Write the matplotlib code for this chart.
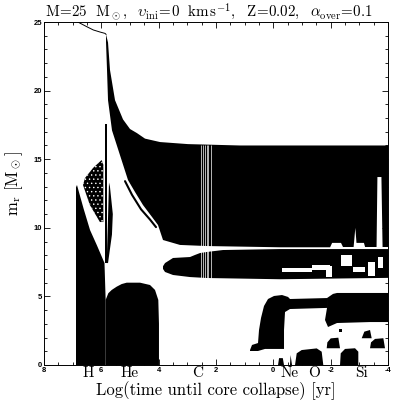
import numpy as np
import matplotlib
matplotlib.use('Agg')
import matplotlib.pyplot as plt
from matplotlib.ticker import MultipleLocator

plt.rcParams['mathtext.fontset'] = 'cm'
plt.rcParams['axes.unicode_minus'] = False
plt.rcParams['hatch.linewidth'] = 0.5

# surface mass line before the red supergiant phase
surf_x = [6.82, 6.51, 6.28, 6.047, 5.872, 5.837]
surf_y = [25.0, 24.66, 24.42, 24.27, 24.17, 24.1]

# convective envelope (top edge left->right, bottom edge right->left)
env_top_x = [5.837, 5.767, 5.698, 5.523, 5.244, 5.000, 4.756, 4.477, 3.953, 2.977, 1.163, -4.0]
env_top_y = [24.1, 23.5, 21.5, 19.3, 17.9, 17.2, 16.9, 16.5, 16.25, 16.1, 16.0, 16.0]
env_bot_x = [-4.0, -3.81, -3.77, -3.63, -3.60, -3.20, -3.16, -2.90, -2.86, -2.80, -2.43,
             -2.36, -2.05, -1.98, -0.233, 2.314, 3.256, 3.849, 4.023, 4.233, 4.547,
             4.826, 5.07, 5.628, 5.767, 5.802, 5.837]
env_bot_y = [8.6, 8.6, 13.7, 13.7, 8.6, 8.6, 8.9, 8.9, 10.0, 8.6, 8.6, 8.9, 8.9, 8.58,
             8.58, 8.67, 8.75, 9.11, 10.2, 10.79, 11.66, 12.61, 13.48, 17.1, 19.3, 21.5, 23.54]

# thin convective streak below the envelope base
streak_x = [5.174, 4.93, 4.616, 4.302, 4.093]
streak_y = [13.4, 12.4, 11.35, 10.6, 10.05]

# gaps in the output (white vertical lines)
gap_x = [2.523, 2.443, 2.384, 2.325, 2.269, 2.186]

# H burning core
hcore_x = [6.884, 6.884, 6.85, 6.62, 6.395, 6.15, 5.89, 5.85, 5.85]
hcore_y = [0, 12.95, 13.12, 11.4, 9.84, 8.7, 7.43, 4.74, 0]

# H shell zones at end of MS
bar_x = [5.875, 5.875, 5.82, 5.82]
bar_y = [7.43, 17.6, 17.6, 7.43]
lens_x = [5.813, 5.77, 5.733, 5.70, 5.60, 5.63, 5.767]
lens_y = [7.43, 10.5, 13.3, 13.0, 11.0, 9.5, 7.43]

# semiconvective region
semi_x = [5.99, 5.93, 5.93, 6.05, 6.40, 6.64, 6.57, 6.29]
semi_y = [14.94, 14.6, 10.42, 10.42, 11.66, 13.12, 13.63, 14.36]

# He burning core
he_x = [5.85, 5.85, 5.757, 5.638, 5.464, 5.29, 5.115, 4.651, 4.302, 4.128, 4.013, 3.99, 3.99]
he_y = [0, 4.74, 5.23, 5.47, 5.71, 5.90, 6.0, 6.0, 5.83, 5.47, 4.74, 3.0, 0]

# shell band
band_top_x = [3.849, 3.779, 3.50, 2.907, 2.733, 2.558, 2.314, 1.756, -0.233, -4.0]
band_top_y = [7.2, 7.43, 7.8, 7.87, 8.02, 8.16, 8.24, 8.38, 8.45, 8.45]
band_bot_x = [-4.0, -0.233, 2.314, 2.907, 3.50, 3.779, 3.849]
band_bot_y = [6.35, 6.25, 6.34, 6.41, 6.56, 6.78, 7.0]
hole_x0 = [-0.30, -1.35, -1.84, -2.36, -2.78, -3.30, -3.65]
hole_x1 = [-1.35, -1.98, -2.05, -2.74, -3.20, -3.55, -3.83]
hole_y0 = [6.78, 6.92, 6.45, 7.22, 6.78, 6.52, 7.07]
hole_y1 = [7.05, 7.29, 7.22, 8.02, 7.14, 7.50, 7.87]

# Ne / O / Si zones
ne_x = [0.814, 0.744, 0.535, 0.500, 0.430, 0.326, 0.186, -0.023, -0.302, -0.512, -0.581,
        -1.872, -1.872, -0.581, -0.407, -0.372, -0.372, 0.291, 0.535, 0.814]
ne_y = [1.09, 1.46, 1.60, 2.55, 3.43, 4.30, 4.81, 5.03, 5.10, 4.96, 4.81,
        4.88, 4.16, 4.08, 3.86, 2.55, 1.17, 1.17, 1.02, 1.02]
blk_x = [-1.872, -2.081, -2.221, -4.0, -4.0, -3.372, -2.221, -1.907, -1.802, -1.872]
blk_y = [4.88, 5.18, 5.25, 5.25, 3.13, 3.13, 3.06, 2.77, 3.28, 4.16]
hump1_x = [-0.756, -0.815, -0.989, -1.512, -1.686, -1.742]
hump1_y = [0, 0.85, 1.09, 1.21, 0.97, 0]
hump2_x = [-2.326, -2.35, -2.5, -2.849, -2.964, -2.964]
hump2_y = [0, 0.85, 1.17, 1.22, 0.97, 0]
blobA_x = [-1.861, -1.884, -2.002, -2.267, -2.326]
blobA_y = [1.22, 1.65, 1.94, 1.99, 1.22]
blobB_x = [-3.082, -3.174, -3.372, -3.43]
blobB_y = [1.95, 2.43, 2.55, 1.95]
blobC_x = [-3.372, -3.407, -3.547, -3.837, -3.895]
blobC_y = [1.22, 1.65, 1.9, 1.95, 1.22]
bump_x = [-0.163, -0.20, -0.33, -0.372]
bump_y = [0, 0.5, 0.5, 0]
sliver_x = [-0.581, -0.60, -0.651]
sliver_y = [0, 0.73, 0]
dot_x = [-2.29, -2.29, -2.39, -2.39]
dot_y = [2.4, 2.6, 2.6, 2.4]

elem_names = ['H', 'He', 'C', 'Ne', 'O', 'Si']
elem_x = [6.47, 5.0, 2.63, -0.58, -1.42, -3.09]

fig = plt.figure(figsize=(4.09, 4.09), dpi=100)
ax = fig.add_axes([0.1076, 0.1076, 0.8411, 0.8386])

ax.plot(surf_x, surf_y, color='black', lw=0.7)
ax.fill(env_top_x + env_bot_x, env_top_y + env_bot_y, color='black', lw=0)
ax.plot(streak_x, streak_y, color='black', lw=1.5, solid_capstyle='round')
ax.fill(hcore_x, hcore_y, color='black', lw=0)
ax.fill(bar_x, bar_y, color='black', lw=0)
ax.fill(lens_x, lens_y, color='black', lw=0)
ax.fill(semi_x, semi_y, facecolor='black', edgecolor='white', hatch='....', lw=0)
ax.fill(he_x, he_y, color='black', lw=0)
ax.fill(band_top_x + band_bot_x, band_top_y + band_bot_y, color='black', lw=0)
for x0, x1, y0, y1 in zip(hole_x0, hole_x1, hole_y0, hole_y1):
    ax.fill_between([x0, x1], y0, y1, color='white', lw=0)
ax.vlines(gap_x, 6.3, 16.0, color='white', lw=0.5)

for sx, sy in [(ne_x, ne_y), (blk_x, blk_y), (hump1_x, hump1_y), (hump2_x, hump2_y),
               (blobA_x, blobA_y), (blobB_x, blobB_y), (blobC_x, blobC_y),
               (bump_x, bump_y), (sliver_x, sliver_y), (dot_x, dot_y)]:
    ax.fill(sx, sy, color='black', lw=0)

ax.set_xlim(8, -4)
ax.set_ylim(0, 25)
ax.xaxis.set_major_locator(MultipleLocator(2))
ax.xaxis.set_minor_locator(MultipleLocator(0.5))
ax.yaxis.set_major_locator(MultipleLocator(5))
ax.yaxis.set_minor_locator(MultipleLocator(1))
ax.tick_params(which='both', direction='in', top=True, right=True, width=0.6)
ax.tick_params(which='major', length=4.5, pad=1.5)
ax.tick_params(which='minor', length=2.2)
for lab in ax.get_xticklabels() + ax.get_yticklabels():
    lab.set_fontfamily('Liberation Sans')
    lab.set_fontweight('bold')
    lab.set_fontsize(5.5)
for sp in ax.spines.values():
    sp.set_linewidth(0.7)

for name, xe in zip(elem_names, elem_x):
    ax.text(xe, -0.023, name, transform=ax.get_xaxis_transform(), ha='center', va='center',
            fontfamily='cmr10', fontsize=11)

ax.set_xlabel('Log(time until core collapse) [yr]', fontfamily='cmr10', fontsize=12, labelpad=5)
ax.set_ylabel(r'$\mathrm{m_r\ [M_\odot]}$', fontsize=12)
ax.yaxis.set_label_coords(-0.055, 0.53)
ax.set_title(r'$\mathrm{M\!=\!25\ \ M_\odot,\ \ }\upsilon_{\mathrm{ini}}\mathrm{\!=\!0\ \ km\,s^{-1},\ \ Z\!=\!0.02,\ \ }'
             r'\alpha_{\mathrm{over}}\mathrm{\!=\!0.1}$', fontsize=10.8, pad=3, x=0.48)

fig.savefig('out.png', dpi=100)
